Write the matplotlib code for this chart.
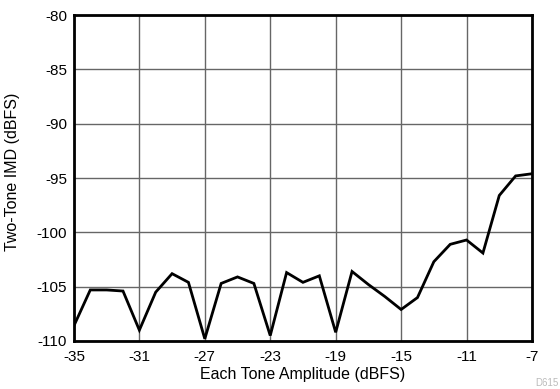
import numpy as np
import matplotlib
matplotlib.use("Agg")
import matplotlib.pyplot as plt

plt.rcParams['font.family'] = ['Liberation Sans', 'DejaVu Sans']
plt.rcParams['axes.unicode_minus'] = False

amplitude = list(range(-35, -6))
imd = [-108.6, -105.3, -105.3, -105.4, -109.0, -105.5, -103.8, -104.6, -109.8,
       -104.7, -104.1, -104.7, -109.5, -103.7, -104.6, -104.0, -109.2, -103.6,
       -104.8, -105.9, -107.1, -106.0, -102.7, -101.1, -100.7, -101.9, -96.6,
       -94.8, -94.6]
xticks = list(range(-35, -6, 4))
yticks = list(range(-110, -79, 5))

fig = plt.figure(figsize=(5.6, 3.89), dpi=100)
ax = fig.add_axes([0.132, 0.1234, 0.818, 0.8376])
ax.plot(amplitude, imd, color='black', linewidth=2, solid_joinstyle='miter')
ax.set_xlim(-35, -7)
ax.set_ylim(-110, -80)
ax.set_xticks(xticks)
ax.set_yticks(yticks)
ax.grid(True, color='#666666', linewidth=1)
for s in ax.spines.values():
    s.set_linewidth(2)
ax.tick_params(length=0, labelsize=11)
ax.tick_params(axis='x', pad=6.5)
ax.tick_params(axis='y', pad=5)
ax.set_xlabel('Each Tone Amplitude (dBFS)', fontsize=11.5)
ax.set_ylabel('Two-Tone IMD (dBFS)', fontsize=11.5)
ax.xaxis.set_label_coords(0.5, -0.08)
ax.yaxis.set_label_coords(-0.118, 0.518)
fig.text(0.997, 0.003, 'D615', fontsize=7, color='#bbbbbb', ha='right', va='bottom')
fig.savefig('out.png', dpi=100)
